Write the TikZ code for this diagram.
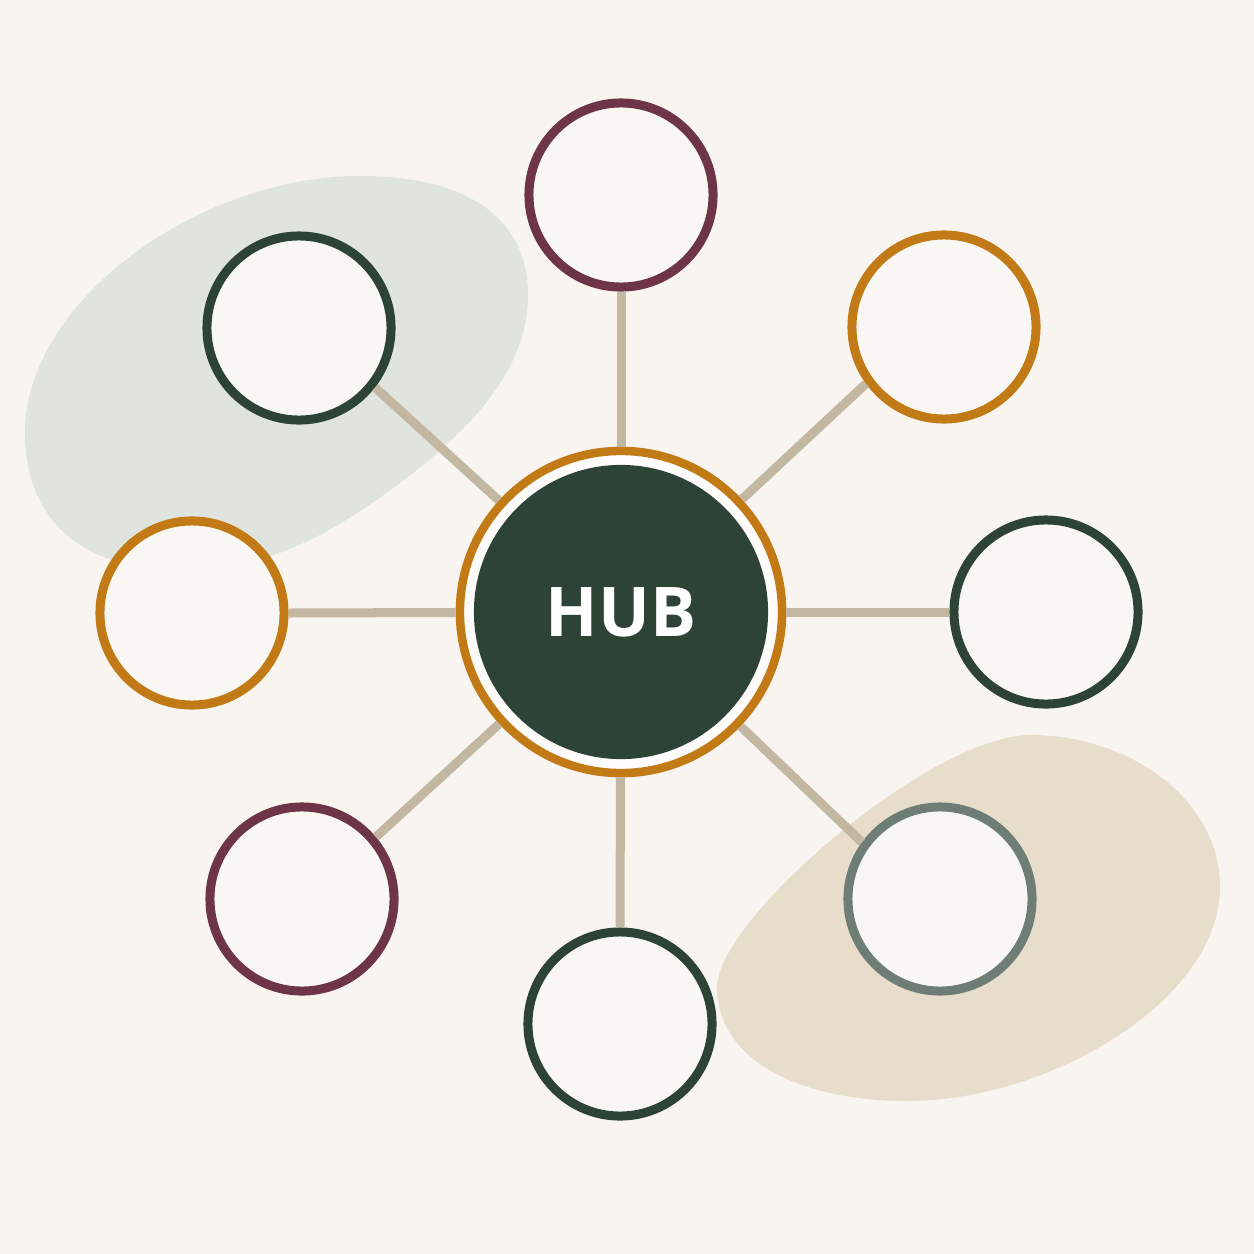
\documentclass[tikz,border=0pt]{standalone}
\usepackage{fontspec}
\setsansfont{Open Sans}
\usepackage{tikz}
\usetikzlibrary{arrows,positioning,shapes,fit,calc}
\definecolor{paper}{HTML}{F8F5F0}
\definecolor{sage}{HTML}{DFE4DD}
\definecolor{sand}{HTML}{E8DCCB}
\definecolor{pine}{HTML}{2C4335}
\definecolor{amber}{HTML}{C27A17}
\definecolor{plum}{HTML}{6E3447}
\definecolor{slate}{HTML}{6E7E76}
\definecolor{linkc}{HTML}{C3B7A2}

\begin{document}
\begin{tikzpicture}[x=0.01cm, y=-0.01cm, main node/.style={circle,draw,fill=paper!80!white,minimum size=1.84cm,inner sep=0pt,line width=0.09cm}]%fill=black,
\fill[paper] (0,0) rectangle (1254,1254);
\useasboundingbox (0,0) rectangle (1254,1254);
\begin{scope}
\fill[sage] (360,176) .. controls (470,176) and (528,220) .. (528,295)
  .. controls (528,370) and (470,430) .. (400,483)
  .. controls (330,535) and (260,575) .. (170,570)
  .. controls (60,565) and (25,500) .. (25,433)
  .. controls (25,300) and (200,176) .. (360,176) -- cycle;
\fill[sand] (1031,735) .. controls (1130,735) and (1220,800) .. (1220,887)
  .. controls (1220,1000) and (1050,1101) .. (907,1101)
  .. controls (800,1101) and (717,1060) .. (717,987)
  .. controls (717,920) and (930,735) .. (1031,735) -- cycle;
\end{scope}
\begin{scope}
\node[main node, draw=amber, fill=white!70!paper, minimum size=3.22cm, line width=0.085cm] (hub) at (621,612) {};
\node[circle, fill=pine, minimum size=2.94cm, inner sep=0pt, text=white, font=\sffamily\bfseries\fontsize{19.5}{20}\selectfont] (core) at (hub) {HUB};
\node[main node, draw=plum] (s1) at (621,195) {};
\node[main node, draw=amber] (s2) at (944,327) {};
\node[main node, draw=pine] (s3) at (1046,612) {};
\node[main node, draw=slate] (s4) at (940,899) {};
\node[main node, draw=pine] (s5) at (620,1024) {};
\node[main node, draw=plum] (s6) at (302,899) {};
\node[main node, draw=amber] (s7) at (192,613) {};
\node[main node, draw=pine] (s8) at (299,328) {};
\end{scope}
\begin{scope}[color=linkc, line width=0.09cm]
\draw  (hub) edge node{} (s1.south);
\draw  (hub) edge node{} (s2.216);
\draw  (hub) edge node{} (s3.west);
\draw  (hub) edge node{} (s4.144);
\draw  (hub) edge node{} (s5.north);
\draw  (hub) edge node{} (s6.40);
\draw  (hub) edge node{} (s7.east);
\draw  (hub) edge node{} (s8.322);
\end{scope}
\end{tikzpicture}
\end{document}
